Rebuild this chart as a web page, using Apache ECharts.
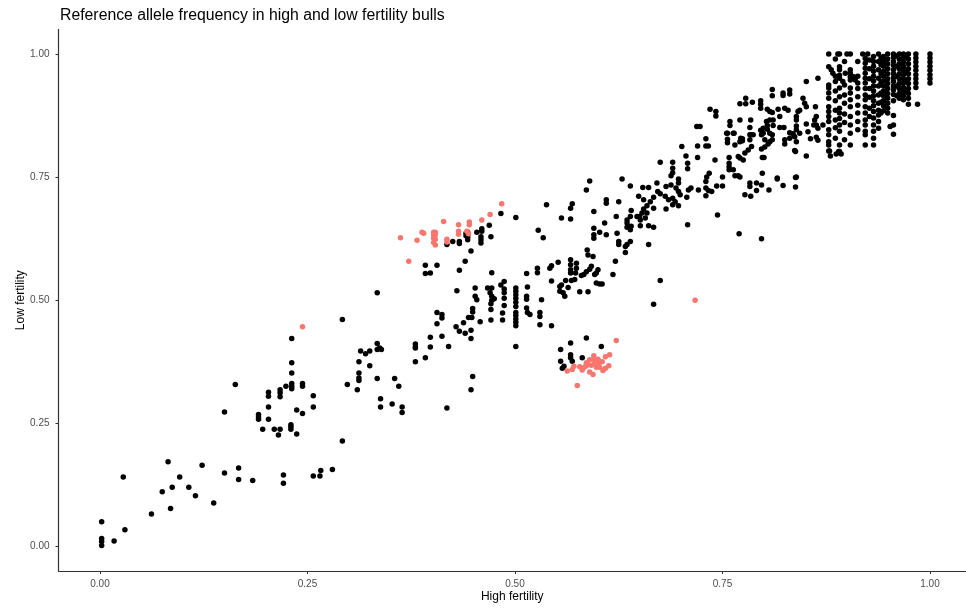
<!DOCTYPE html>
<html>
<head>
<meta charset="utf-8">
<script src="https://cdn.jsdelivr.net/npm/echarts@6/dist/echarts.min.js"></script>
<style>
  html, body { margin: 0; padding: 0; background: #fff; }
  #chart { width: 966px; height: 608px; }
</style>
</head>
<body>
<div id="chart"></div>
<script>
// [high fertility, low fertility] reference allele frequency
const blackLow = [
  [0.150,0.273],[0.191,0.268],[0.191,0.263],[0.191,0.258],[0.203,0.283],[0.203,0.258],[0.196,0.238],
  [0.210,0.238],[0.217,0.238],[0.215,0.226],[0.237,0.277],[0.230,0.247],[0.230,0.243],[0.230,0.238],
  [0.237,0.228],[0.082,0.172],[0.123,0.165],[0.028,0.141],[0.096,0.141],[0.150,0.149],[0.167,0.159],
  [0.167,0.136],[0.184,0.134],[0.221,0.145],[0.221,0.128],[0.075,0.111],[0.087,0.120],[0.107,0.120],
  [0.115,0.103],[0.137,0.088],[0.085,0.077],[0.062,0.066],[0.002,0.050],[0.030,0.034],[0.002,0.016],
  [0.002,0.010],[0.002,0.002],[0.017,0.011],
  [0.292,0.461],[0.231,0.422],[0.231,0.373],[0.231,0.352],[0.231,0.331],[0.231,0.325],[0.231,0.320],
  [0.224,0.325],[0.244,0.331],[0.244,0.325],[0.217,0.318],[0.217,0.312],[0.217,0.304],[0.203,0.313],
  [0.203,0.305],[0.163,0.329],[0.244,0.270],[0.257,0.306],[0.257,0.283],[0.292,0.214],[0.298,0.329],
  [0.310,0.318],[0.312,0.375],[0.312,0.352],[0.312,0.342],[0.312,0.337],[0.314,0.397],[0.320,0.391],
  [0.325,0.397],[0.325,0.367],[0.334,0.412],[0.334,0.400],[0.337,0.403],[0.339,0.400],[0.334,0.341],
  [0.338,0.300],[0.338,0.283],[0.352,0.289],[0.355,0.341],[0.360,0.325],[0.364,0.283],[0.364,0.272],
  [0.380,0.411],[0.380,0.405],[0.380,0.403],[0.380,0.375],[0.257,0.143],[0.265,0.143],[0.266,0.154],
  [0.280,0.156]
];

const blackMid = [
  [0.483,0.676],[0.469,0.652],[0.460,0.645],[0.460,0.640],[0.454,0.638],[0.443,0.638],[0.443,0.633],
  [0.443,0.628],[0.443,0.623],[0.441,0.636],[0.441,0.631],[0.459,0.629],[0.459,0.623],[0.459,0.616],
  [0.471,0.629],[0.433,0.619],[0.433,0.615],[0.425,0.619],[0.418,0.613],[0.447,0.600],[0.440,0.579],
  [0.433,0.561],[0.392,0.571],[0.392,0.554],[0.398,0.555],[0.406,0.571],[0.472,0.556],[0.501,0.668],
  [0.538,0.694],[0.528,0.642],[0.534,0.627],[0.552,0.577],[0.542,0.565],[0.544,0.570],[0.527,0.565],
  [0.527,0.556],[0.514,0.554],[0.544,0.539],[0.334,0.515],[0.430,0.519],[0.452,0.525],[0.452,0.508],
  [0.454,0.501],[0.467,0.525],[0.472,0.525],[0.470,0.515],[0.472,0.508],[0.472,0.500],[0.475,0.503],
  [0.471,0.493],[0.471,0.481],[0.471,0.460],[0.483,0.531],[0.487,0.538],[0.487,0.523],[0.487,0.515],
  [0.487,0.504],[0.487,0.489],[0.485,0.474],[0.485,0.460],
  [0.501,0.525],[0.501,0.518],[0.501,0.511],[0.501,0.504],[0.501,0.496],[0.501,0.487],[0.501,0.475],
  [0.501,0.469],[0.501,0.462],[0.501,0.455],[0.501,0.448],[0.501,0.406],
  [0.515,0.527],[0.514,0.508],[0.514,0.502],[0.514,0.484],[0.515,0.475],[0.518,0.471],[0.532,0.501],
  [0.530,0.475],[0.530,0.467],[0.530,0.450],[0.544,0.448],[0.449,0.483],[0.449,0.476],[0.444,0.465],
  [0.448,0.465],[0.458,0.456],[0.438,0.454],[0.429,0.446],[0.433,0.437],[0.440,0.433],[0.447,0.439],
  [0.447,0.422],[0.406,0.475],[0.412,0.471],[0.412,0.464],[0.406,0.452],[0.398,0.425],[0.398,0.405],
  [0.412,0.427],[0.420,0.406],[0.392,0.383],
  [0.586,0.423],[0.567,0.413],[0.604,0.406],[0.555,0.400],[0.567,0.389],[0.567,0.383],[0.569,0.376],
  [0.581,0.383],[0.555,0.376],[0.557,0.362],[0.559,0.366],
  [0.675,0.540],[0.667,0.492],[0.661,0.613],[0.635,0.613],[0.639,0.619],[0.633,0.597],[0.625,0.619],
  [0.625,0.613],[0.621,0.579],[0.618,0.552],[0.587,0.602],[0.588,0.592],[0.594,0.589],[0.592,0.569],
  [0.590,0.563],[0.586,0.558],[0.583,0.552],[0.580,0.550],[0.600,0.562],[0.598,0.555],[0.596,0.552],
  [0.598,0.535],[0.602,0.533],[0.605,0.533],[0.574,0.575],[0.574,0.565],[0.573,0.555],[0.572,0.542],
  [0.567,0.582],[0.567,0.572],[0.567,0.562],[0.567,0.555],[0.568,0.540],[0.561,0.540],[0.556,0.531],
  [0.554,0.528],[0.554,0.518],[0.558,0.515],[0.560,0.508],[0.578,0.517],[0.588,0.517],[0.449,0.345],
  [0.447,0.318],[0.418,0.281],[0.564,0.526]
];

const blackUpper = [
  [0.719,0.853],[0.723,0.853],[0.730,0.828],[0.730,0.813],[0.733,0.813],[0.720,0.813],[0.701,0.812],
  [0.706,0.793],[0.720,0.790],[0.708,0.778],[0.708,0.767],[0.675,0.780],[0.690,0.780],[0.690,0.768],
  [0.690,0.759],[0.688,0.753],[0.697,0.746],[0.697,0.738],[0.741,0.785],[0.734,0.758],[0.731,0.750],
  [0.730,0.741],[0.750,0.750],[0.743,0.732],[0.750,0.732],[0.730,0.728],[0.733,0.723],[0.737,0.721],
  [0.730,0.712],[0.721,0.724],[0.712,0.728],[0.709,0.724],[0.707,0.709],[0.682,0.731],[0.688,0.734],
  [0.694,0.728],[0.697,0.721],[0.699,0.714],[0.671,0.738],[0.672,0.721],[0.675,0.716],[0.681,0.711],
  [0.685,0.704],[0.690,0.707],[0.693,0.700],[0.690,0.694],[0.697,0.692],[0.661,0.729],[0.654,0.729],
  [0.649,0.711],[0.655,0.704],[0.639,0.732],[0.667,0.709],[0.663,0.700],[0.659,0.692],[0.655,0.685],
  [0.653,0.677],[0.650,0.670],[0.667,0.687],[0.682,0.685],[0.659,0.677],[0.657,0.667],[0.651,0.663],
  [0.647,0.670],[0.640,0.682],[0.639,0.670],[0.635,0.663],[0.635,0.657],[0.635,0.648],[0.639,0.643],
  [0.640,0.650],[0.651,0.651],[0.661,0.651],[0.667,0.648],[0.708,0.653],[0.744,0.673],[0.770,0.635],
  [0.797,0.625],[0.629,0.746],[0.625,0.700],[0.610,0.704],[0.610,0.697],[0.590,0.742],[0.586,0.724],
  [0.595,0.680],[0.608,0.657],[0.622,0.670],[0.623,0.636],[0.595,0.646],[0.595,0.633],[0.595,0.626],
  [0.602,0.638],[0.610,0.633],[0.633,0.609],[0.567,0.687],[0.569,0.696],[0.556,0.667],[0.567,0.665],
  [0.759,0.863],[0.771,0.866],[0.784,0.866],[0.803,0.863],[0.811,0.866],[0.755,0.839],[0.764,0.839],
  [0.774,0.828],[0.784,0.836],[0.799,0.839],[0.807,0.839],
  [0.851,0.944],[0.865,0.951],[0.810,0.928],[0.810,0.915],[0.823,0.921],[0.823,0.916],[0.831,0.927],
  [0.831,0.919],[0.778,0.910],[0.771,0.899],[0.778,0.899],[0.786,0.902],[0.796,0.905],[0.796,0.898],
  [0.796,0.890],[0.804,0.888],[0.807,0.883],[0.810,0.881],[0.817,0.888],[0.825,0.890],[0.829,0.886],
  [0.847,0.910],[0.849,0.900],[0.851,0.893],[0.843,0.886],[0.841,0.883],[0.735,0.888],[0.742,0.883],
  [0.742,0.874],[0.759,0.855],[0.819,0.873],[0.807,0.866],[0.804,0.855],[0.811,0.855],[0.839,0.873],
  [0.839,0.866],[0.839,0.854],[0.851,0.858],[0.861,0.866],[0.863,0.856],[0.819,0.851],[0.824,0.851],
  [0.839,0.846],[0.831,0.840],[0.835,0.838],[0.843,0.839],[0.853,0.842],[0.856,0.828],[0.863,0.831],
  [0.865,0.825],[0.799,0.849],[0.804,0.847],[0.796,0.845],[0.797,0.836],[0.801,0.826],[0.807,0.822],
  [0.810,0.836],[0.810,0.826],[0.805,0.817],[0.801,0.811],[0.797,0.807],[0.825,0.826],[0.825,0.817],
  [0.831,0.829],[0.837,0.832],[0.839,0.822],[0.783,0.851],[0.783,0.836],[0.787,0.836],[0.783,0.826],
  [0.785,0.812],[0.781,0.805],[0.777,0.799],[0.775,0.785],[0.769,0.792],[0.771,0.789],[0.772,0.829],
  [0.774,0.824],[0.771,0.822],[0.756,0.839],[0.756,0.827],[0.756,0.820],[0.763,0.839],[0.765,0.815],
  [0.758,0.790],[0.758,0.778],[0.758,0.771],[0.758,0.765],[0.763,0.765],[0.765,0.753],[0.769,0.753],
  [0.798,0.790],[0.798,0.758],[0.816,0.748],[0.839,0.750],[0.837,0.804],[0.851,0.793],
  [0.816,0.746],[0.823,0.733],[0.838,0.749],[0.838,0.730],[0.806,0.724],[0.771,0.750],[0.783,0.738],
  [0.783,0.731],[0.791,0.738],[0.797,0.734],[0.791,0.723],[0.777,0.714],[0.784,0.711],[0.800,0.790],
  [0.838,0.802],[0.880,0.793],[0.887,0.797],[0.893,0.797],[0.890,0.802],[0.879,0.803],
  [0.862,0.893],[0.863,0.873],[0.860,0.856],[0.865,0.849],[0.871,0.856],[0.881,0.968],
  [0.883,0.961],[0.886,0.955],[0.895,0.944],[0.898,0.961],[0.908,0.954],[0.910,0.947]
];

// dense top-right block, read column by column: [high fertility, [low fertility values]]
const topColumns = [
  [0.878, [1.0,0.974,0.937,0.931,0.921,0.910,0.893,0.883,0.873,0.863,0.846,0.836,0.822,0.815,0.803]],
  [0.886, [0.990,0.944,0.925,0.905,0.886,0.866,0.850,0.829]],
  [0.889, [1.0]],
  [0.891, [1.0,0.974,0.968,0.957,0.951,0.931,0.913,0.890,0.880,0.869,0.856,0.843,0.815,0.802]],
  [0.897, [0.985,0.937,0.917,0.900,0.878,0.861,0.826]],
  [0.900, [1.0]],
  [0.904, [1.0,0.968,0.961,0.954,0.947,0.931,0.921,0.907,0.893,0.873,0.856,0.839,0.815]],
  [0.913, [0.985,0.955,0.941,0.930,0.913,0.896,0.880,0.863,0.846]],
  [0.919, [1.0]],
  [0.922, [0.991,0.981,0.971,0.961,0.951,0.941,0.930,0.917,0.907,0.893,0.880,0.866,0.856,0.843,0.836,0.815]],
  [0.925, [1.0]],
  [0.927, [0.988,0.970,0.950,0.930,0.912,0.890,0.873]],
  [0.932, [0.995,0.985,0.975,0.965,0.955,0.945,0.935,0.925,0.915,0.905,0.895,0.883,0.870,0.856,0.843,0.829,0.815]],
  [0.938, [1.0,0.985,0.968,0.951,0.935,0.917,0.900,0.886,0.876,0.863,0.849]],
  [0.941, [0.992,0.978,0.960,0.942,0.921,0.902,0.880]],
  [0.944, [0.995,0.985,0.975,0.965,0.955,0.945,0.935,0.925,0.915,0.905,0.895,0.885]],
  [0.949, [1.0,0.990,0.980,0.970,0.960,0.950,0.940,0.930,0.920,0.910,0.900,0.890,0.880]],
  [0.952, [0.853]],
  [0.956, [1.0,0.993,0.985,0.977,0.968,0.960,0.952,0.944,0.935,0.927,0.918,0.905,0.875,0.856,0.837]],
  [0.960, [0.996,0.975,0.955,0.935,0.915]],
  [0.963, [1.0,0.990,0.980,0.970,0.960,0.950,0.940,0.930,0.920,0.910]],
  [0.968, [1.0,0.992,0.984,0.975,0.967,0.958,0.950,0.941,0.932,0.924,0.915,0.907]],
  [0.971, [0.995,0.965,0.945,0.925]],
  [0.974, [1.0,0.990,0.980,0.970,0.960,0.950,0.940,0.930,0.920,0.910,0.898]],
  [0.983, [1.0,0.992,0.984,0.975,0.967,0.958,0.950,0.941,0.932]],
  [0.985, [0.898]],
  [1.0,   [1.0,0.992,0.984,0.975,0.967,0.958,0.950,0.941]]
];

const redPoints = [
  [0.244,0.446],[0.362,0.627],[0.372,0.579],[0.382,0.622],[0.388,0.638],[0.390,0.636],[0.402,0.638],
  [0.404,0.638],[0.402,0.633],[0.404,0.633],[0.402,0.626],[0.404,0.624],[0.402,0.617],[0.404,0.612],
  [0.414,0.660],[0.418,0.624],[0.418,0.618],[0.432,0.653],[0.432,0.640],[0.432,0.634],[0.442,0.640],
  [0.444,0.635],[0.445,0.659],[0.445,0.653],[0.460,0.663],[0.470,0.674],[0.484,0.696],
  [0.622,0.418],[0.614,0.389],[0.609,0.385],[0.609,0.362],[0.613,0.367],[0.602,0.374],[0.600,0.368],
  [0.602,0.364],[0.595,0.387],[0.595,0.381],[0.596,0.373],[0.598,0.364],[0.590,0.379],[0.586,0.373],
  [0.588,0.369],[0.585,0.366],[0.582,0.362],[0.581,0.358],[0.590,0.354],[0.594,0.349],[0.571,0.366],
  [0.569,0.359],[0.563,0.356],[0.575,0.327],[0.600,0.380],[0.605,0.375],[0.578,0.365],[0.592,0.368],
  [0.606,0.357],[0.717,0.500]
];

const tickValues = [0, 0.25, 0.5, 0.75, 1];

const topPoints = [];
topColumns.forEach(([x, ys]) => ys.forEach(y => topPoints.push([x, y])));
const blackPoints = blackLow.concat(blackMid, blackUpper, topPoints);

const chart = echarts.init(document.getElementById('chart'), null, { renderer: 'canvas' });

const axisCommon = {
  type: 'value',
  min: -0.05,
  splitLine: { show: false },
  axisLine: { show: true, onZero: false, lineStyle: { color: '#333', width: 1.2 } },
  axisTick: { show: true, customValues: tickValues, length: 3, lineStyle: { color: '#333' } },
  axisLabel: {
    customValues: tickValues,
    formatter: v => v.toFixed(2),
    color: '#4D4D4D',
    fontSize: 10,
    fontFamily: 'Liberation Sans'
  },
  nameLocation: 'middle',
  nameMoveOverlap: false,
  nameTextStyle: { color: '#000', fontSize: 12, fontFamily: 'Liberation Sans' }
};

chart.setOption({
  animation: false,
  backgroundColor: '#fff',
  title: {
    text: 'Reference allele frequency in high and low fertility bulls',
    left: 55,
    top: 3,
    textStyle: { fontSize: 15.8, fontWeight: 'normal', color: '#000', fontFamily: 'Liberation Sans' }
  },
  grid: { left: 58.5, top: 29.4, width: 907.5, height: 542.2, containLabel: false },
  xAxis: Object.assign({}, axisCommon, {
    max: 1.0434,
    name: 'High fertility',
    nameGap: 20,
    axisLabel: Object.assign({}, axisCommon.axisLabel, { margin: 8 })
  }),
  yAxis: Object.assign({}, axisCommon, {
    max: 1.05,
    name: 'Low fertility',
    nameGap: 32,
    nameRotate: 90,
    axisLabel: Object.assign({}, axisCommon.axisLabel, { margin: 9 })
  }),
  series: [
    {
      type: 'scatter',
      data: blackPoints,
      symbolSize: 5.5,
      itemStyle: { color: '#000', opacity: 1 },
      silent: true
    },
    {
      type: 'scatter',
      data: redPoints,
      symbolSize: 5.5,
      itemStyle: { color: '#F8766D', opacity: 1 },
      silent: true
    }
  ]
});
</script>
</body>
</html>
